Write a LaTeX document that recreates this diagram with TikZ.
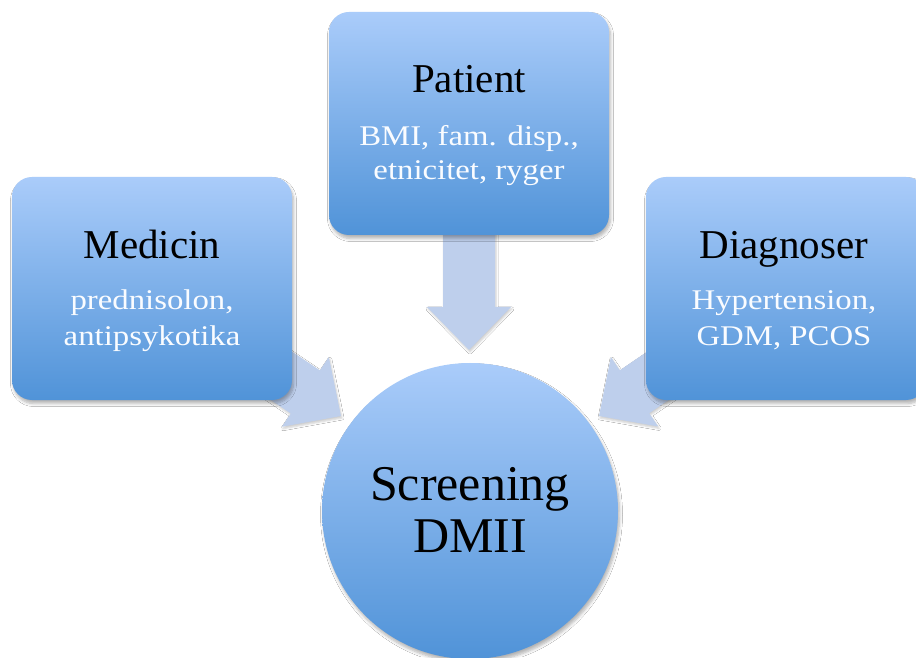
\documentclass[tikz,border=0pt]{standalone}
\usepackage{fontspec}
\setmainfont{Liberation Serif}
\newfontfamily\subfont[FakeStretch=1.15]{Liberation Serif}
\usetikzlibrary{calc,shadows.blur}
\definecolor{gtop}{RGB}{170,204,250}
\definecolor{gbot}{RGB}{80,147,216}
\definecolor{arrowcol}{RGB}{190,207,236}
\definecolor{subcol}{RGB}{250,252,255}
\tikzset{
  box/.style={rectangle, rounded corners=20pt, minimum width=280pt, minimum height=223pt,
    inner sep=0pt, top color=gtop, bottom color=gbot, draw=none,
    blur shadow={shadow xshift=1.5pt, shadow yshift=-3.5pt, shadow blur radius=3pt, shadow blur steps=6, shadow opacity=30}},
  hub/.style={circle, minimum size=296pt, inner sep=0pt, top color=gtop, bottom color=gbot, draw=none,
    blur shadow={shadow xshift=1.5pt, shadow yshift=-3.5pt, shadow blur radius=3pt, shadow blur steps=6, shadow opacity=30}},
  title/.style={anchor=base, inner sep=0pt, text=black, font=\fontsize{41}{45}\selectfont},
  subtext/.style={anchor=base, inner sep=0pt, text=subcol, font=\subfont\fontsize{28.5}{32}\selectfont},
  hubtext/.style={anchor=base, inner sep=0pt, text=black, font=\fontsize{50}{54}\selectfont},
  bigarrow/.style={fill=arrowcol, draw=none,
    blur shadow={shadow xshift=1pt, shadow yshift=-2pt, shadow blur radius=2pt, shadow blur steps=4, shadow opacity=20}}
}
\newcommand{\fatarrow}[2]{%
  \coordinate (hh) at ($(#2)!43pt!(#1)$);
  \fill[bigarrow] ($(#1)!26pt!90:(#2)$) -- ($(hh)!26pt!-90:(#1)$) -- ($(hh)!42pt!-90:(#1)$) -- (#2)
    -- ($(hh)!42pt!90:(#1)$) -- ($(hh)!26pt!90:(#1)$) -- ($(#1)!26pt!-90:(#2)$) -- cycle;}
\begin{document}
\begin{tikzpicture}[x=1pt,y=1pt]
\useasboundingbox (0,0) rectangle (916,657);
\fill[white] (0,0) rectangle (916,657);
% anchor coordinates
\coordinate (medC) at (152,368.5);
\coordinate (patC) at (469,533.5);
\coordinate (diaC) at (786,368.5);
\coordinate (tipL) at (341,241);
\coordinate (tipR) at (599,241);
\coordinate (tipD) at (469,307);
% arrows (behind)
\fatarrow{medC}{tipL}
\fatarrow{diaC}{tipR}
\fatarrow{patC}{tipD}
% boxes
\node[box] (med) at (medC) {};
\node[box] (pat) at (patC) {};
\node[box] (dia) at (diaC) {};
\node[hub] (hub) at (470,146) {};
% texts
\node[title] (medT) at ([yshift=29.5pt]med.center) {Medicin};
\node[subtext] (medS1) at ([yshift=-21.5pt]med.center) {prednisolon,};
\node[subtext] (medS2) at ([yshift=-56.5pt]med.center) {antipsykotika};
\node[title] (patT) at ([yshift=30.5pt]pat.center) {Patient};
\node[subtext] (patS1) at ([yshift=-22.5pt]pat.center) {BMI, fam. disp.,};
\node[subtext] (patS2) at ([yshift=-56.5pt]pat.center) {etnicitet, ryger};
\node[title] (diaT) at ([xshift=-2pt,yshift=29.5pt]dia.center) {Diagnoser};
\node[subtext] (diaS1) at ([xshift=-2pt,yshift=-21.5pt]dia.center) {Hypertension,};
\node[subtext] (diaS2) at ([xshift=-2pt,yshift=-56.5pt]dia.center) {GDM, PCOS};
\node[hubtext] (hubT1) at ([yshift=11pt]hub.center) {Screening};
\node[hubtext] (hubT2) at ([yshift=-41pt]hub.center) {DMII};
\end{tikzpicture}
\end{document}
